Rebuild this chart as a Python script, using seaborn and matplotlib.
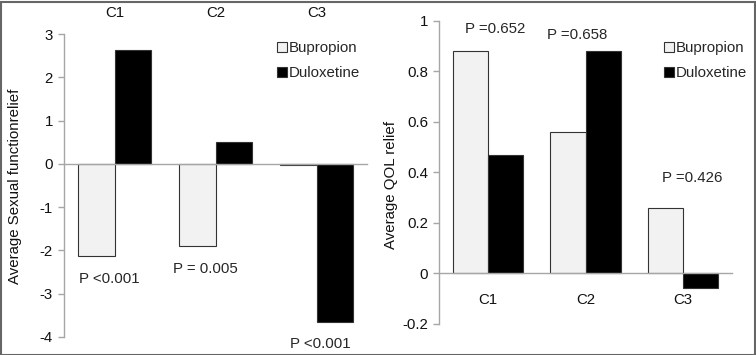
import matplotlib
matplotlib.use("Agg")
import matplotlib.pyplot as plt
import seaborn as sns
import pandas as pd
from matplotlib.patches import Rectangle
from matplotlib.lines import Line2D

categories = ["C1", "C2", "C3"]
drugs = ["Bupropion", "Duloxetine"]
sexual_bupropion = [-2.13, -1.90, -0.03]
sexual_duloxetine = [2.62, 0.50, -3.65]
qol_bupropion = [0.88, 0.56, 0.26]
qol_duloxetine = [0.47, 0.88, -0.06]
sexual_pvals = ["P <0.001", "P = 0.005", "P <0.001"]
qol_pvals = ["P =0.652", "P =0.658", "P =0.426"]

sns.set_theme(style="white")
plt.rcParams["font.family"] = ["Liberation Sans", "DejaVu Sans"]
plt.rcParams["axes.unicode_minus"] = False
FS = 10.8
AX_GRAY = "#a6a6a6"
colors = {"Bupropion": "#f2f2f2", "Duloxetine": "#000000"}

def frame(b, d):
    return pd.DataFrame({
        "cat": categories * 2,
        "drug": [drugs[0]] * 3 + [drugs[1]] * 3,
        "val": list(b) + list(d),
    })

fig = plt.figure(figsize=(7.56, 3.55), dpi=100)
W, H = 756, 355

def add_ax(x0, x1, ytop, ybot):
    return fig.add_axes([x0 / W, 1 - ybot / H, (x1 - x0) / W, (ybot - ytop) / H])

def style(ax):
    for s in ["top", "right"]:
        ax.spines[s].set_visible(False)
    ax.spines["left"].set_color(AX_GRAY)
    ax.spines["left"].set_linewidth(1.0)
    ax.spines["bottom"].set_position(("data", 0))
    ax.spines["bottom"].set_color(AX_GRAY)
    ax.spines["bottom"].set_linewidth(1.0)
    ax.tick_params(axis="y", left=True, length=4, width=1, color=AX_GRAY,
                   labelsize=FS, pad=4, labelcolor="#111111")
    ax.set_xlabel("")
    ax.set_ylabel("")
    ax.grid(False)

def legend(ax, x, y):
    handles = [Line2D([], [], linestyle="none", marker="s", markersize=6.5,
                      markerfacecolor=colors[d], markeredgecolor="#333333",
                      markeredgewidth=0.8, label=d) for d in drugs]
    ax.legend(handles=handles, loc="upper left", bbox_to_anchor=(x / W, 1 - y / H),
              bbox_transform=fig.transFigure, frameon=False, fontsize=FS,
              handlelength=0.6, handletextpad=0.2,
              labelspacing=0.75, borderpad=0, borderaxespad=0)

# Left panel
ax1 = add_ax(64, 367, 34, 337)
sns.barplot(data=frame(sexual_bupropion, sexual_duloxetine), x="cat", y="val",
            hue="drug", palette=colors, width=0.73, edgecolor="#333333",
            linewidth=0.8, ax=ax1, legend=False, errorbar=None)
ax1.set_ylim(-4, 3)
ax1.set_xlim(-0.5, 2.5)
ax1.set_yticks(range(-4, 4))
style(ax1)
ax1.xaxis.tick_top()
ax1.tick_params(axis="x", top=False, bottom=False, length=0, labelsize=FS, pad=10,
                labelcolor="#111111")
legend(ax1, 277, 41)
ax1.text(-0.35, -2.67, sexual_pvals[0], fontsize=FS, va="center", ha="left", clip_on=False)
ax1.text(0.58, -2.43, sexual_pvals[1], fontsize=FS, va="center", ha="left", clip_on=False)
ax1.text(1.74, -4.16, sexual_pvals[2], fontsize=FS, va="center", ha="left", clip_on=False)
fig.text(15 / W, 1 - 186 / H, "Average Sexual functionrelief", rotation=90,
         ha="center", va="center", fontsize=FS, color="#111111")

# Right panel
ax2 = add_ax(439, 732, 21, 323.6)
sns.barplot(data=frame(qol_bupropion, qol_duloxetine), x="cat", y="val",
            hue="drug", palette=colors, width=0.72, edgecolor="#333333",
            linewidth=0.8, ax=ax2, legend=False, errorbar=None)
ax2.set_ylim(-0.2, 1)
ax2.set_xlim(-0.5, 2.5)
ax2.set_yticks([-0.2, 0, 0.2, 0.4, 0.6, 0.8, 1.0])
ax2.set_yticklabels(["-0.2", "0", "0.2", "0.4", "0.6", "0.8", "1"])
style(ax2)
ax2.tick_params(axis="x", bottom=False, length=0, labelsize=FS, pad=14,
                labelcolor="#111111")
legend(ax2, 664, 41)
ax2.text(-0.233, 0.97, qol_pvals[0], fontsize=FS, va="center", ha="left", clip_on=False)
ax2.text(0.606, 0.946, qol_pvals[1], fontsize=FS, va="center", ha="left", clip_on=False)
ax2.text(1.783, 0.378, qol_pvals[2], fontsize=FS, va="center", ha="left", clip_on=False)
fig.text(391 / W, 1 - 185 / H, "Average QOL relief", rotation=90,
         ha="center", va="center", fontsize=FS, color="#111111")

# Outer border
fig.add_artist(Rectangle((0.5 / W, 0.5 / H), 1 - 2 / W, 1 - 2 / H, transform=fig.transFigure,
                         fill=False, edgecolor="#666666", linewidth=1.5))

fig.savefig("out.png", dpi=100)
